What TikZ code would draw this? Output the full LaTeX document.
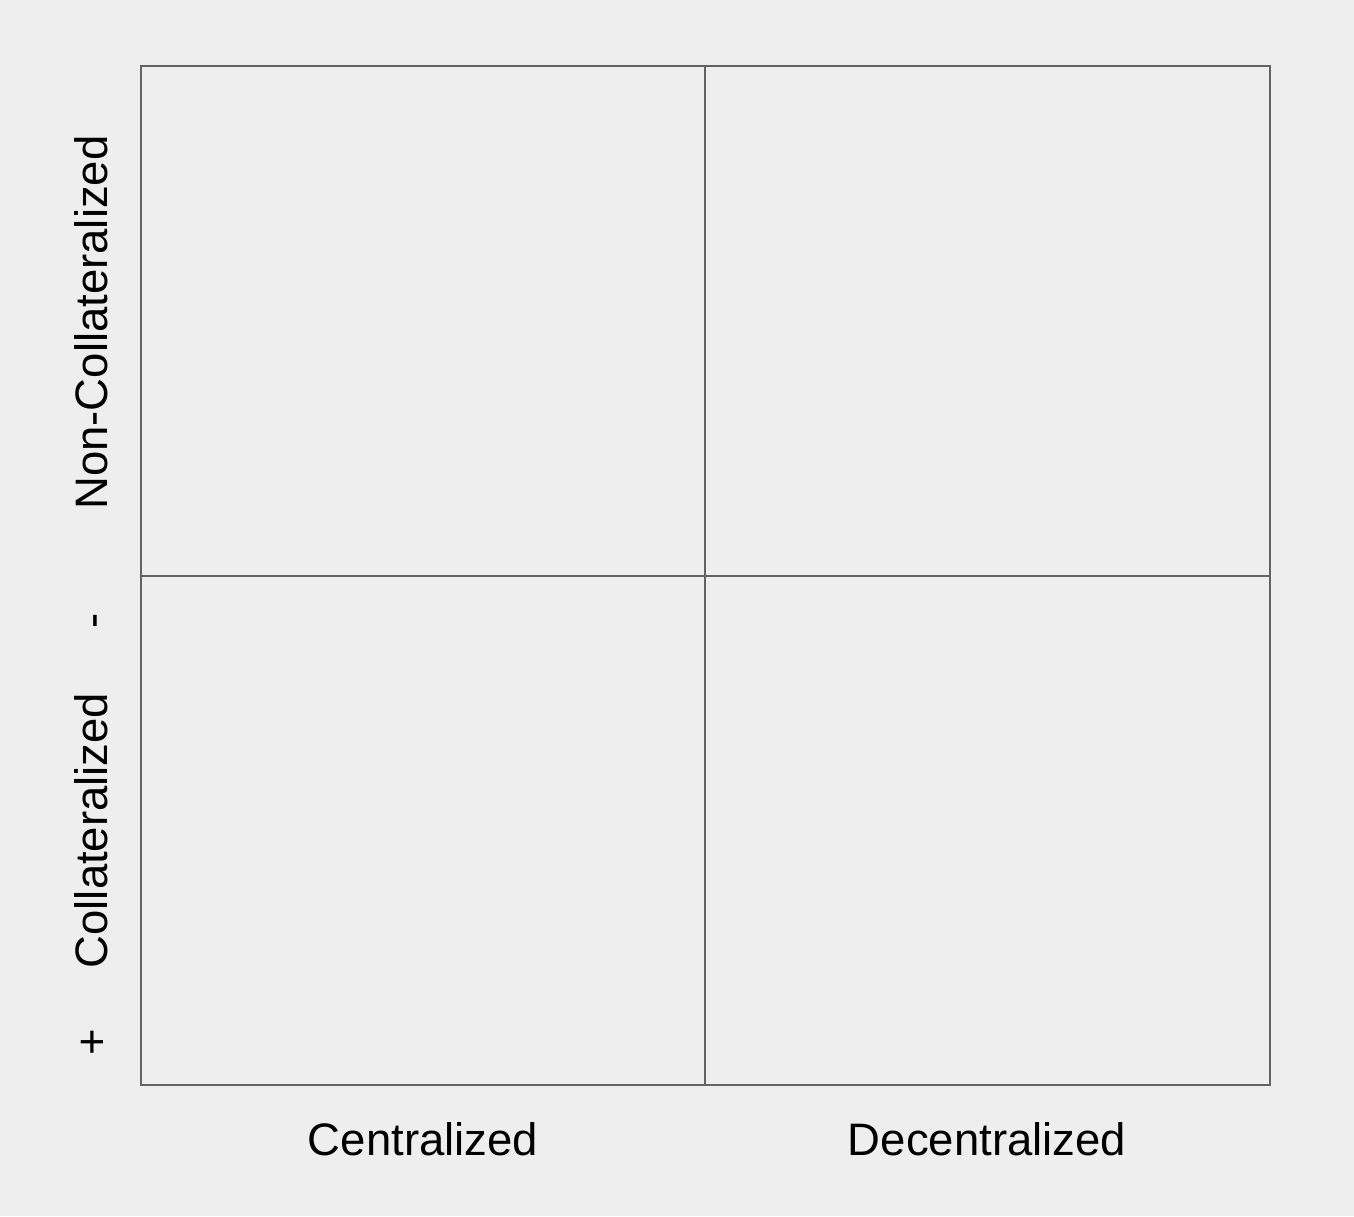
\documentclass[tikz,border=0pt]{standalone}
\usepackage{fontspec}
\setmainfont{Liberation Sans}
\definecolor{bg}{HTML}{EEEEEE}
\definecolor{gridc}{HTML}{636363}
\begin{document}
\begin{tikzpicture}[x=1pt,y=-1pt,
  gridline/.style={draw=gridc,line width=2pt},
  lbl/.style={inner sep=0pt,anchor=base,font=\fontsize{45.5}{50}\selectfont},
  vlbl/.style={lbl,rotate=90}]
\fill[bg] (0,0) rectangle (1354,1216);
\useasboundingbox (0,0) rectangle (1354,1216);
\coordinate (tl) at (141,66);
\coordinate (br) at (1270,1085);
\coordinate (mt) at (705,66);
\coordinate (mb) at (705,1085);
\coordinate (ml) at (141,576);
\coordinate (mr) at (1270,576);
\draw[gridline] (tl) rectangle (br);
\draw[gridline] (mt) -- (mb);
\draw[gridline] (ml) -- (mr);
\node[lbl] (cen) at (423,1155) {Centralized};
\node[lbl] (dec) at (987,1155) {Decentralized};
\node[vlbl] (noncol) at (107,322.5) {Non-Collateralized};
\node[vlbl] (col) at (107,830.5) {Collateralized};
\node[vlbl] (minus) at (107,620.5) {-};
\node[vlbl] (plus) at (107,1042) {+};
\end{tikzpicture}
\end{document}
